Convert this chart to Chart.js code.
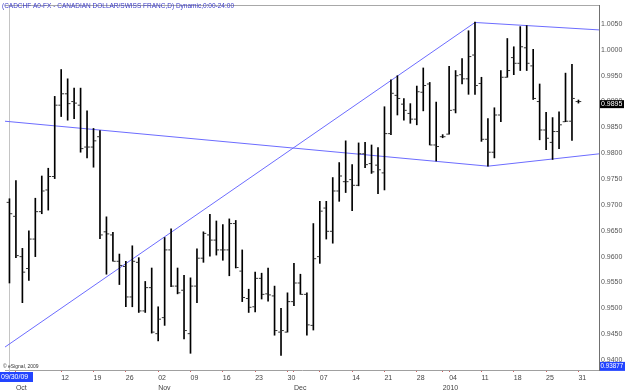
<!DOCTYPE html>
<html>
<head>
<meta charset="utf-8">
<script src="https://cdn.jsdelivr.net/npm/chart.js@4.4.0/dist/chart.umd.min.js"></script>
<style>
  html, body { margin: 0; padding: 0; background: #fff; }
  #wrap { width: 625px; height: 392px; }
</style>
</head>
<body>
<div id="wrap"><canvas id="priceChart" width="625" height="392"></canvas></div>
<script>
// CADCHF A0-FX daily bars, 09/30/09 .. 01/31/10
var dates = [
  "09/30/09", "10/01/09", "10/02/09", "10/05/09", "10/06/09", "10/07/09", "10/08/09", "10/09/09",
  "10/12/09", "10/13/09", "10/14/09", "10/15/09", "10/16/09", "10/19/09", "10/20/09", "10/21/09",
  "10/22/09", "10/23/09", "10/26/09", "10/27/09", "10/28/09", "10/29/09", "10/30/09", "11/02/09",
  "11/03/09", "11/04/09", "11/05/09", "11/06/09", "11/09/09", "11/10/09", "11/11/09", "11/12/09",
  "11/13/09", "11/16/09", "11/17/09", "11/18/09", "11/19/09", "11/20/09", "11/23/09", "11/24/09",
  "11/25/09", "11/26/09", "11/27/09", "11/30/09", "12/01/09", "12/02/09", "12/03/09", "12/04/09",
  "12/07/09", "12/08/09", "12/09/09", "12/10/09", "12/11/09", "12/14/09", "12/15/09", "12/16/09",
  "12/17/09", "12/18/09", "12/21/09", "12/22/09", "12/23/09", "12/24/09", "12/25/09", "12/28/09",
  "12/29/09", "12/30/09", "12/31/09", "01/01/10", "01/04/10", "01/05/10", "01/06/10", "01/07/10",
  "01/08/10", "01/11/10", "01/12/10", "01/13/10", "01/14/10", "01/15/10", "01/18/10", "01/19/10",
  "01/20/10", "01/21/10", "01/22/10", "01/25/10", "01/26/10", "01/27/10", "01/28/10", "01/29/10",
  "01/31/10"
];

var opens = [
  0.9705, 0.9678, 0.9600, 0.9577, 0.9634, 0.9687, 0.9729, 0.9755, 0.9893, 0.9915,
  0.9900, 0.9893, 0.9812, 0.9812, 0.9832, 0.9648, 0.9642, 0.9591, 0.9581, 0.9522,
  0.9589, 0.9495, 0.9540, 0.9451, 0.9482, 0.9613, 0.9543, 0.9535, 0.9451, 0.9543,
  0.9597, 0.9642, 0.9632, 0.9613, 0.9613, 0.9664, 0.9572, 0.9519, 0.9503, 0.9558,
  0.9528, 0.9524, 0.9454, 0.9454, 0.9513, 0.9549, 0.9527, 0.9467, 0.9600, 0.9694,
  0.9649, 0.9727, 0.9745, 0.9749, 0.9738, 0.9799, 0.9780, 0.9777, 0.9762, 0.9838,
  0.9912, 0.9895, 0.9877, 0.9866, 0.9918, 0.9934, 0.9816, 0.9832, 0.9837, 0.9884,
  0.9952, 0.9944, 0.9990, 0.9935, 0.9827, 0.9802, 0.9874, 0.9947, 0.9985, 0.9974,
  1.0004, 0.9969, 0.9900, 0.9845, 0.9821, 0.9842, 0.9861, 0.9862, 0.9900
];
var highs = [
  0.9712, 0.9747, 0.9616, 0.9650, 0.9713, 0.9756, 0.9771, 0.9910, 0.9962, 0.9944,
  0.9926, 0.9926, 0.9882, 0.9848, 0.9844, 0.9677, 0.9647, 0.9605, 0.9591, 0.9621,
  0.9598, 0.9552, 0.9578, 0.9503, 0.9637, 0.9654, 0.9578, 0.9564, 0.9559, 0.9615,
  0.9648, 0.9682, 0.9669, 0.9662, 0.9673, 0.9670, 0.9613, 0.9537, 0.9570, 0.9568,
  0.9578, 0.9543, 0.9500, 0.9530, 0.9587, 0.9566, 0.9530, 0.9664, 0.9707, 0.9707,
  0.9753, 0.9782, 0.9824, 0.9778, 0.9820, 0.9821, 0.9816, 0.9811, 0.9890, 0.9942,
  0.9950, 0.9906, 0.9896, 0.9930, 0.9965, 0.9937, 0.9899, 0.9836, 0.9968, 0.9960,
  0.9983, 1.0037, 1.0054, 0.9947, 0.9867, 0.9888, 0.9960, 1.0022, 1.0006, 1.0045,
  1.0047, 1.0001, 0.9934, 0.9879, 0.9869, 0.9880, 0.9955, 0.9972, 0.9903
];
var lows = [
  0.9549, 0.9598, 0.9511, 0.9554, 0.9600, 0.9683, 0.9690, 0.9751, 0.9871, 0.9864,
  0.9867, 0.9802, 0.9791, 0.9773, 0.9635, 0.9566, 0.9591, 0.9546, 0.9503, 0.9503,
  0.9492, 0.9492, 0.9452, 0.9437, 0.9467, 0.9542, 0.9528, 0.9441, 0.9413, 0.9511,
  0.9589, 0.9601, 0.9603, 0.9593, 0.9563, 0.9578, 0.9513, 0.9492, 0.9493, 0.9518,
  0.9514, 0.9448, 0.9409, 0.9454, 0.9505, 0.9527, 0.9448, 0.9458, 0.9587, 0.9634,
  0.9626, 0.9707, 0.9724, 0.9689, 0.9737, 0.9772, 0.9761, 0.9722, 0.9729, 0.9836,
  0.9874, 0.9864, 0.9858, 0.9855, 0.9882, 0.9816, 0.9785, 0.9830, 0.9837, 0.9878,
  0.9934, 0.9914, 0.9914, 0.9823, 0.9775, 0.9791, 0.9861, 0.9947, 0.9952, 0.9960,
  0.9960, 0.9904, 0.9826, 0.9807, 0.9788, 0.9809, 0.9861, 0.9825, 0.9897
];
var closes = [
  0.9683, 0.9602, 0.9570, 0.9634, 0.9687, 0.9727, 0.9755, 0.9893, 0.9915, 0.9896,
  0.9897, 0.9809, 0.9812, 0.9824, 0.9642, 0.9644, 0.9591, 0.9583, 0.9522, 0.9591,
  0.9495, 0.9540, 0.9454, 0.9479, 0.9613, 0.9543, 0.9530, 0.9457, 0.9543, 0.9597,
  0.9645, 0.9632, 0.9613, 0.9613, 0.9664, 0.9579, 0.9521, 0.9502, 0.9558, 0.9527,
  0.9526, 0.9457, 0.9457, 0.9513, 0.9549, 0.9527, 0.9468, 0.9596, 0.9688, 0.9649,
  0.9727, 0.9756, 0.9745, 0.9738, 0.9799, 0.9778, 0.9764, 0.9768, 0.9838, 0.9916,
  0.9906, 0.9883, 0.9866, 0.9919, 0.9931, 0.9816, 0.9813, 0.9832, 0.9883, 0.9950,
  0.9944, 0.9987, 0.9931, 0.9827, 0.9802, 0.9874, 0.9947, 0.9960, 0.9974, 1.0006,
  0.9974, 0.9906, 0.9845, 0.9829, 0.9842, 0.9855, 0.9862, 0.9906, 0.9900
];

// hand drawn trend lines (bar index, price)
var upperLineX = [-0.7, 72, 92];
var upperLineY = [0.9425, 1.0053, 1.0038];
var lowerLineX = [-0.7, 74, 92];
var lowerLineY = [0.9862, 0.9775, 0.9800];

var priceTicks = [0.9400, 0.9450, 0.9500, 0.9550, 0.9600, 0.9650, 0.9700,
  0.9750, 0.9800, 0.9850, 0.9900, 0.9950, 1.0000, 1.0050];
var dayTicks = [8, 13, 18, 23, 28, 33, 38, 43, 48, 53, 58, 63, 68, 73, 78, 83, 88];
var monthTicks = [1, 23, 44, 67];
var monthNames = ["Oct", "Nov", "Dec", "2010"];

var cursorIndex = 0;
var cursorPrice = 0.93877;
var lastPrice = 0.9895;
var titleText = "(CADCHF A0-FX - CANADIAN DOLLAR/SWISS FRANC,D) Dynamic,0:00-24:00";

Chart.defaults.font.family = '"Liberation Sans", Arial, sans-serif';

var axisTicks = dayTicks.concat(monthTicks).filter(function (v, i, a) {
  return a.indexOf(v) === i;
}).sort(function (a, b) { return a - b; });

function tickLabel(i) {
  var day = dayTicks.indexOf(i) >= 0 ? dates[i].slice(3, 5) : "";
  var m = monthTicks.indexOf(i);
  return [day, m >= 0 ? monthNames[m] : ""];
}

function pointsOf(xs, ys) {
  return xs.map(function (x, i) { return {x: x, y: ys[i]}; });
}

// title, cursor and price tags
var overlayPlugin = {
  id: 'overlay',
  beforeDatasetsDraw: function (chart) {
    var ctx = chart.ctx, area = chart.chartArea;
    var cx = Math.round(chart.scales.x.getPixelForValue(cursorIndex)) + 0.5;
    ctx.save();
    ctx.lineWidth = 1;
    ctx.strokeStyle = '#c4c4c4';
    ctx.beginPath();
    ctx.moveTo(cx, area.top + 3);
    ctx.lineTo(cx, area.bottom + 2);
    ctx.stroke();
    ctx.strokeStyle = '#a8a8a8';
    ctx.beginPath();
    ctx.moveTo(area.left, area.top + 0.5);
    ctx.lineTo(area.right, area.top + 0.5);
    ctx.stroke();
    ctx.restore();
  },
  afterDraw: function (chart) {
    var ctx = chart.ctx, area = chart.chartArea;
    var y = chart.scales.y;
    ctx.save();
    ctx.textBaseline = 'middle';
    ctx.textAlign = 'left';

    ctx.font = '7px "Liberation Sans", Arial, sans-serif';
    var w = ctx.measureText(titleText).width;
    ctx.fillStyle = '#3838c8';
    ctx.translate(2, 6);
    ctx.scale(232 / w, 1);
    ctx.fillText(titleText, 0, 0);
    ctx.setTransform(1, 0, 0, 1, 0, 0);

    ctx.font = '5px "Liberation Sans", Arial, sans-serif';
    ctx.fillStyle = '#333';
    ctx.fillText('\u00a9 eSignal, 2009', 3, area.bottom - 3.5);

    ctx.font = '7px "Liberation Sans", Arial, sans-serif';
    var ly = y.getPixelForValue(lastPrice);
    ctx.fillStyle = '#000';
    ctx.fillRect(area.right + 1, ly - 4, 24, 8);
    ctx.fillStyle = '#fff';
    ctx.fillText(lastPrice.toFixed(4), area.right + 2, ly);

    ctx.font = '6.3px "Liberation Sans", Arial, sans-serif';
    var cy = y.getPixelForValue(cursorPrice);
    ctx.fillStyle = '#2244ff';
    ctx.fillRect(area.right + 1, cy - 4.5, 25, 9);
    ctx.fillStyle = '#fff';
    ctx.fillText(cursorPrice.toFixed(5), area.right + 1.5, cy);

    ctx.font = '7px "Liberation Sans", Arial, sans-serif';
    ctx.fillStyle = '#2244ff';
    ctx.fillRect(0, area.bottom + 2, 33, 10);
    ctx.fillStyle = '#fff';
    ctx.fillText(dates[cursorIndex], 1, area.bottom + 7);
    ctx.restore();
  }
};

var ctx = document.getElementById('priceChart');
var priceChart = new Chart(ctx, {
  type: 'bar',
  data: {
    datasets: [
      {
        type: 'line',
        data: pointsOf(upperLineX, upperLineY),
        borderColor: '#6c6cff',
        borderWidth: 1,
        pointRadius: 0,
        order: 3
      },
      {
        type: 'line',
        data: pointsOf(lowerLineX, lowerLineY),
        borderColor: '#6c6cff',
        borderWidth: 1,
        pointRadius: 0,
        order: 3
      },
      {
        type: 'bar',
        data: highs.map(function (h, i) { return {x: i, y: [lows[i], h]}; }),
        backgroundColor: '#000',
        borderWidth: 0,
        barThickness: 1,
        grouped: false,
        order: 2
      },
      {
        type: 'line',
        showLine: false,
        data: opens.map(function (o, i) { return {x: i - 0.25, y: o}; }),
        pointStyle: 'line',
        pointRadius: 1.2,
        pointBorderWidth: 1,
        pointBorderColor: '#333',
        order: 1
      },
      {
        type: 'line',
        showLine: false,
        data: closes.map(function (c, i) { return {x: i + 0.25, y: c}; }),
        pointStyle: 'line',
        pointRadius: 1.2,
        pointBorderWidth: 1,
        pointBorderColor: '#333',
        order: 1
      }
    ]
  },
  options: {
    responsive: false,
    animation: false,
    events: [],
    devicePixelRatio: 1,
    layout: { padding: 0 },
    plugins: {
      legend: { display: false },
      tooltip: { enabled: false }
    },
    scales: {
      x: {
        type: 'linear',
        min: -0.69,
        max: 91.18,
        offset: false,
        grid: {
          offset: false,
          drawOnChartArea: false,
          tickLength: 2,
          tickColor: '#d06060'
        },
        border: { display: true, color: '#a0a0a0' },
        afterBuildTicks: function (scale) {
          scale.ticks = axisTicks.map(function (v) { return {value: v}; });
        },
        afterFit: function (scale) {
          scale.height = 22;
          scale.paddingLeft = 0;
          scale.paddingRight = 0;
        },
        ticks: {
          autoSkip: false,
          maxRotation: 0,
          minRotation: 0,
          align: 'start',
          padding: 1,
          color: '#444',
          font: { size: 7, lineHeight: '10px' },
          callback: function (value) { return tickLabel(value); }
        }
      },
      y: {
        type: 'linear',
        position: 'right',
        min: 0.93807,
        max: 1.00868,
        beginAtZero: false,
        grid: { display: false, drawTicks: false },
        border: { display: true, color: '#707070' },
        afterBuildTicks: function (scale) {
          scale.ticks = priceTicks.map(function (v) { return {value: v}; });
        },
        afterFit: function (scale) {
          scale.width = 26;
          scale.paddingTop = 0;
          scale.paddingBottom = 0;
        },
        ticks: {
          padding: 2,
          color: '#555',
          font: { size: 7 },
          callback: function (value) { return value.toFixed(4); }
        }
      }
    }
  },
  plugins: [overlayPlugin]
});
</script>
</body>
</html>
